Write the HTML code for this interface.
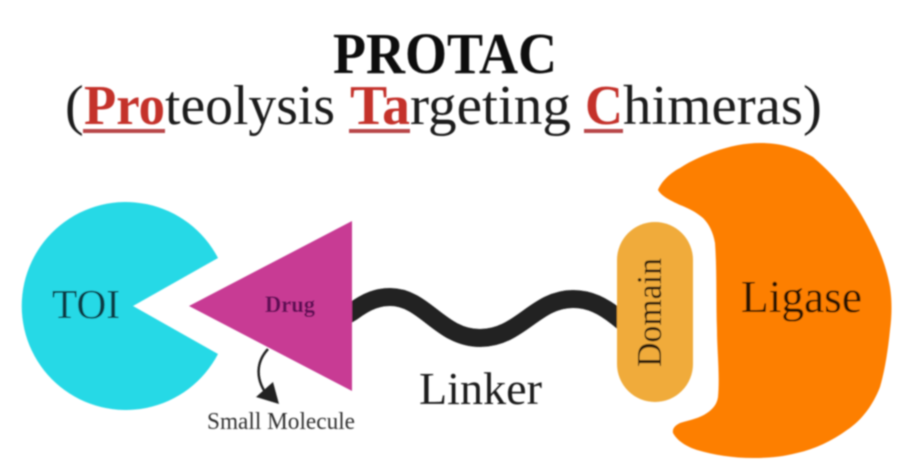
<!DOCTYPE html>
<html><head><meta charset="utf-8"><style>
html,body{margin:0;padding:0;background:#fff;width:907px;height:468px;overflow:hidden}
svg{display:block}
text{font-family:"Liberation Serif",serif}
</style></head><body>
<svg width="907" height="468" viewBox="0 0 907 468" xmlns="http://www.w3.org/2000/svg">
<defs><filter id="b" x="-5%" y="-5%" width="110%" height="110%"><feGaussianBlur stdDeviation="0.7"/></filter></defs>
<rect width="907" height="468" fill="#fff"/>
<g filter="url(#b)">
<text x="333" y="73" font-size="58" font-weight="bold" fill="#0a0a0a" textLength="224" lengthAdjust="spacingAndGlyphs">PROTAC</text>
<g font-size="56" fill="#1a1a1a">
<text x="65" y="124">(</text>
<text x="84" y="124" font-weight="bold" fill="#c4302b" textLength="81" lengthAdjust="spacingAndGlyphs">Pro</text>
<text x="165" y="124" textLength="170" lengthAdjust="spacingAndGlyphs">teolysis</text>
<text x="350" y="124" font-weight="bold" fill="#c4302b" textLength="60" lengthAdjust="spacingAndGlyphs">Ta</text>
<text x="410" y="124" textLength="161" lengthAdjust="spacingAndGlyphs">rgeting</text>
<text x="585" y="124" font-weight="bold" fill="#c4302b" textLength="38" lengthAdjust="spacingAndGlyphs">C</text>
<text x="623" y="124" textLength="199" lengthAdjust="spacingAndGlyphs">himeras)</text>
</g>
<rect x="83" y="129" width="82" height="4" fill="#b8474a"/>
<rect x="349" y="129" width="61" height="4" fill="#b8474a"/>
<rect x="584" y="129" width="39" height="4" fill="#b8474a"/>
<path d="M218 258 A104 104 0 1 0 218 354 L133 306 Z" fill="#25d9e6"/>
<path d="M342 318 L352 312 C368 300 379 297 390 297 C425 297 440 338 480 338 C520 338 535 299 573 299 C590 299 603 306 617 317 L628 326" fill="none" stroke="#222" stroke-width="18"/>
<path d="M189 306 L352 221 L352 391 Z" fill="#c83a94"/>
<rect x="617" y="222" width="76" height="180" rx="38" ry="38" fill="#f0ab3b"/>
<path d="M658 190 C662 180 672 172 680 168 C692 160 705 155 713 152 C730 146 745 143 760 143 C780 143 798 148 813 157 C826 168 838 181 847 193 C858 208 866 222 873 237 C881 253 887 270 890 287 C892 300 892 315 890 330 C888 350 885 370 880 387 C873 405 862 420 847 430 C832 441 815 449 797 453 C782 457 768 458 753 458 C733 458 714 455 697 450 C688 447 678 442 673 433 C672 428 676 425 680 423 C690 420 700 418 707 413 C713 409 717 404 718 397 C720 375 717 350 717 330 C716 300 717 270 715 243 C713 232 709 224 703 218 C696 212 688 208 680 205 C672 201 662 197 658 190 Z" fill="#fd7f02"/>
<path d="M268 349 C256 362 256 378 265 392" fill="none" stroke="#222" stroke-width="2.5"/>
<path d="M256 397 L273 382 L279 404 Z" fill="#222"/>
<text x="52" y="318" font-size="41" fill="#0b3a44" textLength="68" lengthAdjust="spacingAndGlyphs">TOI</text>
<text x="265" y="312" font-size="23" font-weight="bold" fill="#5e0f55" textLength="50" lengthAdjust="spacingAndGlyphs">Drug</text>
<text x="207" y="429" font-size="24" fill="#333" textLength="148" lengthAdjust="spacingAndGlyphs">Small Molecule</text>
<text x="419" y="404" font-size="46" fill="#1c1c1c" textLength="123" lengthAdjust="spacingAndGlyphs">Linker</text>
<text x="741" y="312" font-size="45" fill="#2a1205" textLength="121" lengthAdjust="spacingAndGlyphs">Ligase</text>
<text transform="translate(661,367) rotate(-90)" font-size="35" fill="#2a1c08" textLength="109" lengthAdjust="spacingAndGlyphs">Domain</text>
</g>
</svg>
</body></html>
